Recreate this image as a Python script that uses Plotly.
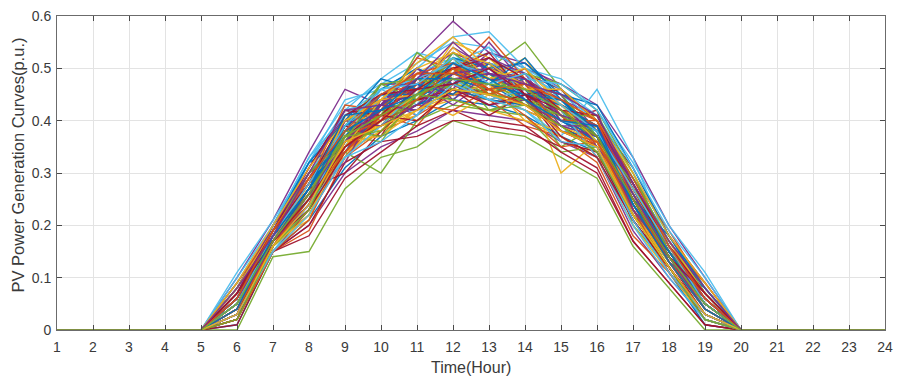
import plotly.graph_objects as go

hours = list(range(1, 25))
x_ticks = list(range(1, 25))
y_ticks = [0, 0.1, 0.2, 0.3, 0.4, 0.5, 0.6]
y_tick_labels = ["0", "0.1", "0.2", "0.3", "0.4", "0.5", "0.6"]

# hours 1-5 and 20-24 are zero for every scenario
night_before = [0, 0, 0, 0, 0]
night_after = [0, 0, 0, 0, 0]

# daytime output of each scenario, hours 6..19 (p.u.)
day_curves = [
    [0.05,0.18,0.27,0.38,0.42,0.46,0.50,0.47,0.44,0.40,0.36,0.25,0.14,0.04],
    [0.03,0.16,0.22,0.33,0.38,0.41,0.45,0.44,0.43,0.39,0.35,0.22,0.12,0.03],
    [0.08,0.19,0.30,0.41,0.45,0.49,0.53,0.50,0.48,0.44,0.40,0.28,0.16,0.07],
    [0.02,0.15,0.20,0.30,0.35,0.38,0.42,0.41,0.40,0.36,0.33,0.19,0.10,0.02],
    [0.06,0.17,0.26,0.37,0.44,0.47,0.49,0.52,0.46,0.42,0.38,0.26,0.15,0.06],
    [0.09,0.20,0.33,0.43,0.47,0.51,0.55,0.54,0.49,0.45,0.41,0.30,0.18,0.09],
    [0.04,0.16,0.24,0.35,0.39,0.43,0.46,0.45,0.44,0.40,0.37,0.23,0.13,0.04],
    [0.01,0.15,0.21,0.31,0.37,0.40,0.44,0.43,0.41,0.37,0.34,0.21,0.11,0.01],
    [0.07,0.19,0.29,0.40,0.43,0.48,0.51,0.49,0.47,0.43,0.39,0.27,0.15,0.06],
    [0.05,0.17,0.25,0.34,0.40,0.45,0.47,0.46,0.45,0.41,0.36,0.24,0.14,0.05],
    [0.10,0.21,0.34,0.46,0.43,0.52,0.59,0.53,0.50,0.47,0.43,0.33,0.20,0.10],
    [0.00,0.14,0.15,0.27,0.33,0.35,0.40,0.38,0.37,0.33,0.29,0.16,0.08,0.00],
    [0.06,0.18,0.28,0.39,0.41,0.44,0.49,0.48,0.46,0.42,0.38,0.25,0.14,0.05],
    [0.03,0.15,0.23,0.36,0.42,0.42,0.48,0.45,0.42,0.39,0.35,0.24,0.13,0.03],
    [0.05,0.18,0.26,0.34,0.44,0.46,0.44,0.50,0.46,0.38,0.37,0.22,0.15,0.05],
    [0.07,0.17,0.24,0.38,0.39,0.47,0.52,0.45,0.48,0.43,0.40,0.26,0.13,0.06],
    [0.04,0.16,0.27,0.32,0.43,0.40,0.46,0.49,0.43,0.41,0.34,0.25,0.16,0.04],
    [0.08,0.20,0.31,0.42,0.40,0.50,0.47,0.53,0.51,0.46,0.38,0.29,0.17,0.08],
    [0.02,0.16,0.22,0.37,0.36,0.45,0.50,0.42,0.44,0.35,0.39,0.20,0.12,0.02],
    [0.06,0.19,0.28,0.35,0.46,0.43,0.53,0.47,0.50,0.44,0.36,0.27,0.14,0.07],
    [0.04,0.17,0.25,0.39,0.37,0.48,0.45,0.51,0.45,0.40,0.42,0.23,0.15,0.05],
    [0.09,0.19,0.32,0.36,0.45,0.44,0.51,0.46,0.47,0.45,0.37,0.28,0.13,0.08],
    [0.03,0.15,0.19,0.33,0.41,0.39,0.47,0.44,0.39,0.37,0.32,0.18,0.11,0.03],
    [0.05,0.18,0.27,0.40,0.38,0.46,0.49,0.48,0.52,0.42,0.39,0.26,0.16,0.06],
    [0.07,0.20,0.29,0.37,0.43,0.50,0.46,0.55,0.47,0.41,0.36,0.28,0.15,0.05],
    [0.02,0.16,0.23,0.34,0.30,0.40,0.43,0.42,0.41,0.34,0.35,0.21,0.12,0.02],
    [0.06,0.17,0.26,0.42,0.44,0.45,0.52,0.49,0.45,0.43,0.38,0.24,0.14,0.06],
    [0.08,0.19,0.30,0.38,0.47,0.47,0.50,0.51,0.49,0.46,0.40,0.31,0.18,0.09],
    [0.04,0.16,0.24,0.36,0.40,0.43,0.45,0.47,0.43,0.39,0.37,0.22,0.13,0.04],
    [0.05,0.18,0.28,0.33,0.42,0.49,0.48,0.44,0.46,0.42,0.33,0.25,0.14,0.05],
    [0.03,0.17,0.21,0.38,0.39,0.41,0.50,0.46,0.48,0.30,0.36,0.23,0.12,0.03],
    [0.07,0.18,0.31,0.41,0.44,0.46,0.54,0.50,0.44,0.44,0.41,0.27,0.17,0.07],
    [0.06,0.19,0.26,0.35,0.41,0.48,0.47,0.50,0.55,0.46,0.40,0.26,0.15,0.06],
    [0.04,0.16,0.25,0.37,0.43,0.42,0.46,0.45,0.42,0.37,0.46,0.33,0.16,0.04],
    [0.02,0.15,0.18,0.29,0.34,0.39,0.42,0.39,0.38,0.35,0.31,0.17,0.09,0.01],
    [0.05,0.17,0.27,0.36,0.40,0.44,0.49,0.47,0.45,0.41,0.38,0.24,0.14,0.05],
    [0.08,0.20,0.29,0.39,0.45,0.47,0.52,0.48,0.46,0.43,0.39,0.29,0.19,0.08],
    [0.05,0.18,0.26,0.34,0.38,0.44,0.41,0.45,0.43,0.41,0.37,0.24,0.14,0.05],
    [0.03,0.16,0.24,0.37,0.41,0.43,0.47,0.43,0.44,0.38,0.35,0.21,0.12,0.03],
    [0.06,0.18,0.28,0.40,0.42,0.46,0.50,0.48,0.47,0.42,0.39,0.26,0.15,0.06],
    [0.11,0.21,0.32,0.44,0.46,0.50,0.56,0.57,0.50,0.48,0.42,0.32,0.20,0.11],
    [0.01,0.15,0.20,0.32,0.36,0.37,0.40,0.40,0.39,0.34,0.30,0.17,0.09,0.01],
    [0.05,0.17,0.25,0.36,0.43,0.45,0.48,0.46,0.48,0.40,0.37,0.25,0.14,0.05],
    [0.07,0.19,0.27,0.38,0.41,0.47,0.50,0.49,0.46,0.44,0.38,0.27,0.16,0.07],
    [0.04,0.17,0.25,0.33,0.40,0.44,0.46,0.44,0.42,0.39,0.36,0.23,0.13,0.04],
    [0.06,0.18,0.27,0.39,0.44,0.41,0.49,0.51,0.47,0.43,0.37,0.26,0.14,0.05],
    [0.03,0.16,0.23,0.35,0.39,0.45,0.47,0.45,0.44,0.39,0.34,0.22,0.12,0.03],
    [0.09,0.20,0.32,0.42,0.48,0.53,0.51,0.53,0.50,0.46,0.41,0.30,0.18,0.08],
    [0.05,0.17,0.26,0.37,0.42,0.46,0.48,0.47,0.45,0.41,0.37,0.25,0.14,0.05],
    [0.04,0.16,0.24,0.36,0.40,0.43,0.46,0.44,0.43,0.40,0.36,0.24,0.13,0.04],
    [0.07,0.18,0.28,0.38,0.43,0.47,0.51,0.48,0.47,0.43,0.39,0.27,0.15,0.07],
    [0.02,0.15,0.22,0.34,0.38,0.42,0.44,0.42,0.40,0.37,0.33,0.20,0.11,0.02],
    [0.06,0.19,0.29,0.40,0.45,0.48,0.53,0.50,0.48,0.44,0.40,0.28,0.16,0.06],
    [0.05,0.17,0.25,0.35,0.42,0.44,0.47,0.49,0.44,0.42,0.36,0.23,0.14,0.05],
    [0.08,0.19,0.30,0.39,0.44,0.49,0.52,0.51,0.49,0.45,0.40,0.29,0.17,0.08],
    [0.03,0.16,0.23,0.36,0.41,0.44,0.45,0.46,0.43,0.38,0.35,0.22,0.12,0.03],
    [0.06,0.18,0.25,0.39,0.46,0.50,0.47,0.49,0.45,0.43,0.39,0.28,0.15,0.06],
    [0.04,0.17,0.29,0.35,0.42,0.52,0.50,0.46,0.50,0.41,0.35,0.24,0.13,0.05],
    [0.07,0.16,0.23,0.41,0.40,0.45,0.55,0.52,0.46,0.44,0.40,0.26,0.17,0.07],
    [0.03,0.18,0.26,0.32,0.44,0.47,0.43,0.48,0.47,0.39,0.37,0.23,0.11,0.03],
    [0.08,0.19,0.30,0.37,0.41,0.53,0.48,0.45,0.49,0.47,0.42,0.30,0.16,0.08],
    [0.05,0.15,0.24,0.38,0.45,0.41,0.51,0.54,0.44,0.40,0.38,0.25,0.14,0.04],
    [0.02,0.17,0.27,0.30,0.38,0.44,0.46,0.41,0.45,0.36,0.34,0.21,0.12,0.02],
    [0.06,0.20,0.32,0.40,0.48,0.46,0.52,0.50,0.51,0.45,0.43,0.31,0.18,0.07],
    [0.09,0.19,0.28,0.43,0.42,0.49,0.49,0.56,0.48,0.42,0.39,0.27,0.16,0.09],
    [0.04,0.16,0.22,0.36,0.37,0.42,0.45,0.47,0.40,0.38,0.36,0.22,0.13,0.04],
    [0.05,0.18,0.29,0.34,0.43,0.50,0.44,0.49,0.47,0.45,0.35,0.26,0.15,0.06],
    [0.07,0.17,0.26,0.39,0.47,0.44,0.53,0.48,0.43,0.41,0.41,0.29,0.17,0.07],
    [0.03,0.16,0.24,0.33,0.39,0.46,0.48,0.44,0.46,0.42,0.33,0.20,0.10,0.02],
    [0.06,0.19,0.31,0.42,0.41,0.48,0.50,0.53,0.45,0.46,0.40,0.27,0.15,0.05],
    [0.08,0.18,0.27,0.37,0.45,0.45,0.49,0.47,0.52,0.44,0.37,0.25,0.18,0.08],
    [0.02,0.15,0.21,0.35,0.40,0.43,0.42,0.46,0.41,0.35,0.36,0.23,0.11,0.03],
    [0.05,0.17,0.28,0.40,0.44,0.51,0.56,0.50,0.47,0.43,0.38,0.26,0.14,0.05],
    [0.07,0.20,0.30,0.36,0.42,0.46,0.47,0.52,0.49,0.40,0.39,0.28,0.16,0.06],
    [0.04,0.16,0.25,0.38,0.37,0.44,0.52,0.45,0.44,0.41,0.37,0.24,0.14,0.04],
    [0.10,0.20,0.33,0.41,0.46,0.48,0.51,0.49,0.48,0.47,0.42,0.31,0.19,0.10],
    [0.03,0.17,0.23,0.34,0.41,0.40,0.46,0.43,0.45,0.37,0.33,0.21,0.12,0.03],
    [0.06,0.18,0.27,0.39,0.43,0.47,0.45,0.51,0.46,0.44,0.38,0.26,0.15,0.05],
    [0.05,0.16,0.26,0.37,0.40,0.49,0.51,0.46,0.43,0.40,0.40,0.25,0.13,0.06],
    [0.08,0.19,0.29,0.35,0.44,0.45,0.54,0.48,0.50,0.43,0.36,0.27,0.17,0.07],
    [0.04,0.17,0.24,0.40,0.39,0.43,0.49,0.50,0.44,0.39,0.39,0.23,0.14,0.04],
    [0.06,0.18,0.30,0.36,0.47,0.48,0.46,0.45,0.47,0.45,0.37,0.28,0.15,0.06],
    [0.03,0.15,0.22,0.33,0.36,0.41,0.47,0.44,0.42,0.36,0.35,0.21,0.11,0.03],
    [0.07,0.19,0.28,0.41,0.45,0.46,0.50,0.52,0.48,0.42,0.41,0.28,0.16,0.07],
    [0.05,0.17,0.27,0.38,0.42,0.48,0.48,0.47,0.45,0.44,0.38,0.24,0.15,0.05],
    [0.04,0.16,0.25,0.34,0.41,0.44,0.50,0.45,0.47,0.38,0.36,0.25,0.13,0.04],
    [0.09,0.20,0.31,0.40,0.44,0.50,0.53,0.51,0.46,0.46,0.40,0.30,0.18,0.09],
    [0.06,0.17,0.26,0.36,0.43,0.42,0.48,0.49,0.48,0.41,0.39,0.26,0.14,0.06],
    [0.02,0.16,0.23,0.37,0.38,0.45,0.44,0.42,0.43,0.39,0.34,0.22,0.12,0.02],
    [0.05,0.18,0.28,0.39,0.46,0.47,0.52,0.47,0.49,0.43,0.38,0.27,0.16,0.05],
    [0.07,0.17,0.25,0.35,0.40,0.46,0.47,0.50,0.45,0.42,0.37,0.25,0.14,0.07],
    [0.04,0.18,0.27,0.41,0.42,0.45,0.51,0.48,0.44,0.40,0.39,0.24,0.13,0.04],
    [0.06,0.19,0.29,0.38,0.45,0.49,0.49,0.46,0.47,0.44,0.40,0.29,0.16,0.06],
    [0.03,0.16,0.24,0.36,0.39,0.42,0.46,0.45,0.43,0.38,0.35,0.22,0.12,0.03],
    [0.08,0.18,0.30,0.42,0.43,0.48,0.55,0.49,0.47,0.45,0.41,0.28,0.17,0.08],
    [0.05,0.17,0.26,0.37,0.41,0.45,0.48,0.47,0.46,0.42,0.37,0.25,0.14,0.05],
]

colors = ["#0072BD", "#D95319", "#EDB120", "#7E2F8E", "#77AC30", "#4DBEEE", "#A2142F"]

fig = go.Figure()
for i, day in enumerate(day_curves):
    y = night_before + day + night_after
    fig.add_trace(go.Scatter(
        x=hours, y=y, mode="lines",
        line=dict(color=colors[i % len(colors)], width=1.4),
        opacity=0.95, showlegend=False, hoverinfo="skip",
    ))

font_family = "Liberation Sans, Arial, sans-serif"
text_color = "#3a3a3a"
axis_common = dict(
    showline=True, linecolor="#6b6b6b", linewidth=1, mirror="ticks",
    ticks="inside", ticklen=5, tickcolor="#4a4a4a", tickwidth=1,
    showgrid=True, gridcolor="#e3e3e3", gridwidth=1, zeroline=False,
    tickfont=dict(family=font_family, size=14, color=text_color),
)

fig.update_layout(
    width=901, height=381,
    margin=dict(l=57, r=8, t=14, b=51),
    plot_bgcolor="white", paper_bgcolor="white",
    xaxis=dict(range=[1, 24], tickvals=x_ticks, ticktext=[str(t) for t in x_ticks],
               ticklabelstandoff=4, **axis_common),
    yaxis=dict(range=[0, 0.6], tickvals=y_ticks, ticktext=y_tick_labels,
               ticklabelstandoff=2, **axis_common),
    annotations=[
        dict(text="Time(Hour)", xref="paper", yref="paper", x=0.5, y=-0.1203,
             xanchor="center", yanchor="middle", showarrow=False,
             font=dict(family=font_family, size=16, color=text_color)),
        dict(text="PV Power Generation Curves(p.u.)", xref="paper", yref="paper",
             x=-0.0467, y=0.525, xanchor="center", yanchor="middle", textangle=-90,
             showarrow=False, font=dict(family=font_family, size=16.5, color=text_color)),
    ],
)

fig.write_html("out.html")
